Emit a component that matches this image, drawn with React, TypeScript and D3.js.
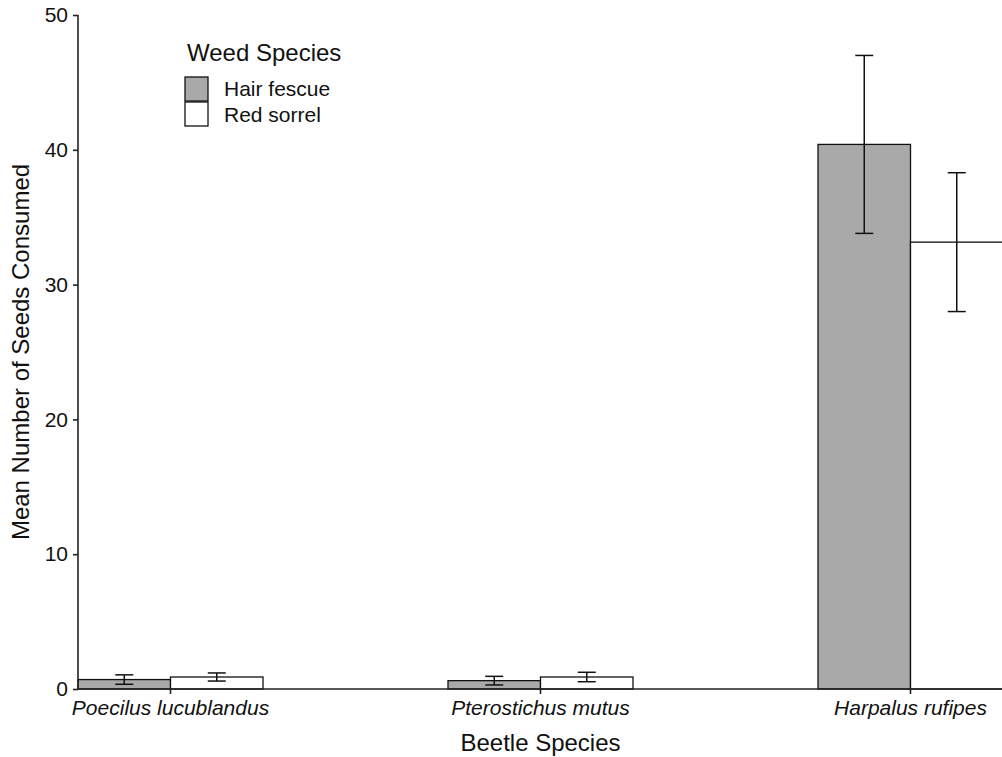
import React, { useEffect, useRef } from 'react';
import * as d3 from 'd3';

const beetles = ['Poecilus lucublandus', 'Pterostichus mutus', 'Harpalus rufipes'];
const weeds = ['Hair fescue', 'Red sorrel'];
const hairFescueMean = [0.7, 0.62, 40.4];
const hairFescueSe = [0.35, 0.32, 6.6];
const redSorrelMean = [0.89, 0.89, 33.15];
const redSorrelSe = [0.3, 0.35, 5.15];
const yTicks = [0, 10, 20, 30, 40, 50];
const weedColors = ['#a9a9a9', '#ffffff'];

const App = () => {
  const svgRef = useRef(null);
  const width = 1002;
  const height = 757;
  const margin = { top: 15, right: -1, bottom: 68, left: 78 };

  useEffect(() => {
    document.body.style.margin = '0';
    const svg = d3.select(svgRef.current);
    svg.selectAll('*').remove();

    const font = 'Arial, "Liberation Sans", sans-serif';
    const x0 = d3.scaleBand().domain(beetles).range([margin.left, width - margin.right]).paddingInner(0.5).paddingOuter(0);
    const x1 = d3.scaleBand().domain(weeds).range([0, x0.bandwidth()]);
    const y = d3.scaleLinear().domain([0, 50]).range([height - margin.bottom, margin.top]);

    // table for the bars
    const rows = [];
    beetles.forEach((b, i) => {
      rows.push({ beetle: b, weed: weeds[0], mean: hairFescueMean[i], se: hairFescueSe[i] });
      rows.push({ beetle: b, weed: weeds[1], mean: redSorrelMean[i], se: redSorrelSe[i] });
    });
    const color = d3.scaleOrdinal().domain(weeds).range(weedColors);

    const bars = svg.append('g');
    bars.selectAll('rect')
      .data(rows)
      .join('rect')
      .attr('x', d => x0(d.beetle) + x1(d.weed))
      .attr('y', d => y(d.mean))
      .attr('width', x1.bandwidth())
      .attr('height', d => y(0) - y(d.mean))
      .attr('fill', d => color(d.weed))
      .attr('stroke', '#111')
      .attr('stroke-width', 1.3);

    // error bars
    const capW = 9;
    const err = svg.append('g').attr('stroke', '#111').attr('stroke-width', 1.5);
    rows.forEach(d => {
      const cx = x0(d.beetle) + x1(d.weed) + x1.bandwidth() / 2;
      err.append('line').attr('x1', cx).attr('x2', cx).attr('y1', y(d.mean + d.se)).attr('y2', y(d.mean - d.se));
      err.append('line').attr('x1', cx - capW).attr('x2', cx + capW).attr('y1', y(d.mean + d.se)).attr('y2', y(d.mean + d.se));
      err.append('line').attr('x1', cx - capW).attr('x2', cx + capW).attr('y1', y(d.mean - d.se)).attr('y2', y(d.mean - d.se));
    });

    // y axis
    const yAxis = svg.append('g')
      .attr('transform', `translate(${margin.left},0)`)
      .call(d3.axisLeft(y).tickValues(yTicks).tickSize(5).tickPadding(5));
    yAxis.selectAll('text').attr('font-size', 21).attr('font-family', font).attr('fill', '#111');
    yAxis.selectAll('line, path').attr('stroke', '#222').attr('stroke-width', 1.6);
    yAxis.select('path').attr('d', `M0,${y(50)}V${y(0)}`);

    // x axis
    const xAxis = svg.append('g')
      .attr('transform', `translate(0,${y(0)})`)
      .call(d3.axisBottom(x0.copy().range([margin.left - x0.bandwidth() / 4, width - margin.right + x0.bandwidth() / 4])).tickSize(5).tickPadding(6));
    xAxis.select('path').attr('d', `M${margin.left},0H${width}`);
    xAxis.selectAll('line, path').attr('stroke', '#222').attr('stroke-width', 1.6);
    xAxis.selectAll('.tick').attr('transform', d => `translate(${x0(d) + x0.bandwidth() / 2},0)`);
    xAxis.selectAll('text').attr('font-size', 21).attr('font-family', font).attr('font-style', 'italic').attr('fill', '#111');

    // axis titles
    svg.append('text')
      .attr('x', (margin.left + 1003) / 2)
      .attr('y', 751)
      .attr('text-anchor', 'middle')
      .attr('font-size', 24)
      .attr('font-family', font)
      .attr('fill', '#111')
      .text('Beetle Species');

    svg.append('text')
      .attr('transform', `translate(29,${(y(0) + y(50)) / 2}) rotate(-90)`)
      .attr('text-anchor', 'middle')
      .attr('font-size', 24)
      .attr('font-family', font)
      .attr('fill', '#111')
      .text('Mean Number of Seeds Consumed');

    // legend
    const legend = svg.append('g');
    legend.append('text')
      .attr('x', 187)
      .attr('y', 61)
      .attr('font-size', 24)
      .attr('font-family', font)
      .attr('fill', '#111')
      .text('Weed Species');
    weeds.forEach((w, i) => {
      legend.append('rect')
        .attr('x', 185)
        .attr('y', 77 + i * 25)
        .attr('width', 23)
        .attr('height', 24)
        .attr('fill', color(w))
        .attr('stroke', '#111')
        .attr('stroke-width', 1.3);
      legend.append('text')
        .attr('x', 224)
        .attr('y', 96 + i * 25.5)
        .attr('font-size', 21)
        .attr('font-family', font)
        .attr('fill', '#111')
        .text(w);
    });
  }, []);

  return <svg ref={svgRef} width={width} height={height} style={{ display: 'block' }}></svg>;
};

export default App;
